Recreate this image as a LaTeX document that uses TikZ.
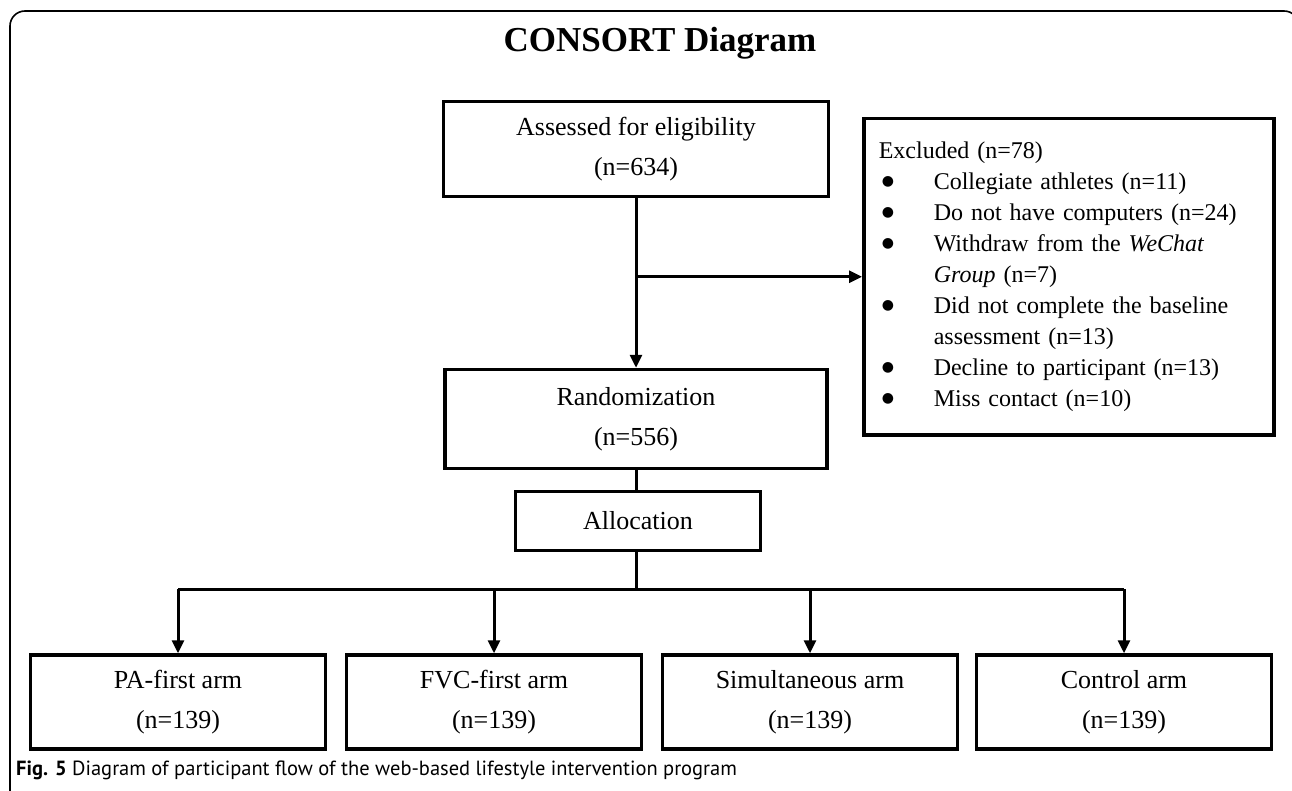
\documentclass[tikz,border=0pt]{standalone}
\usepackage{fontspec}
\setmainfont{Liberation Serif}
\newfontfamily\capfont{PT Sans}
\newfontfamily\dotfont{DejaVu Sans}
\usetikzlibrary{arrows.meta,positioning}
\newcommand{\bul}{\makebox[55pt][l]{\hspace{3pt}\raisebox{4pt}{\dotfont\fontsize{14}{14}\selectfont ●}}}
\newcommand{\ind}{\hspace*{55pt}}
\tikzset{
  flowbox/.style={draw,line width=3.5pt,align=center,inner sep=0pt,
    font=\fontsize{26}{40}\selectfont},
  armbox/.style={flowbox,minimum width=295pt,minimum height=94pt},
  flowline/.style={line width=3pt},
  flowarrow/.style={flowline,-{Triangle[length=13pt,width=12pt]}}
}
\begin{document}
\begin{tikzpicture}[x=1pt,y=-1pt]
  \useasboundingbox (0,0) rectangle (1292,791);
  \clip (0,0) rectangle (1292,791);
  % outer frame, open at the bottom
  \draw[line width=1.6pt,rounded corners=15pt] (10,830) -- (10,11) -- (1299,11) -- (1299,830);
  \node[font=\bfseries\fontsize{35}{40}\selectfont] (title) at (660,43) {CONSORT Diagram};
  % enrolment
  \node[flowbox,minimum width=385pt,minimum height=95pt] (assess) at (636,149)
    {Assessed for eligibility\\(n=634)};
  \node[draw,line width=3.5pt,anchor=north west,minimum width=410pt,minimum height=316pt,
    text width=380pt,inner xsep=15pt,align=left,font=\fontsize{24}{31}\selectfont] (excl) at (862,117)
    {Excluded (n=78)\\
     \bul Collegiate athletes (n=11)\\
     \bul Do not have computers (n=24)\\
     \bul Withdraw from the \textit{WeChat}\\
     \ind\textit{Group} (n=7)\\
     \bul Did not complete the baseline\\
     \ind assessment (n=13)\\
     \bul Decline to participant (n=13)\\
     \bul Miss contact (n=10)};
  \node[flowbox,minimum width=382pt,minimum height=99pt] (random) at (636,419)
    {Randomization\\(n=556)};
  \node[flowbox,minimum width=245pt,minimum height=59pt] (alloc) at (638,521) {Allocation};
  % arms
  \node[armbox] (pa) at (178,702) {PA-first arm\\(n=139)};
  \node[armbox] (fvc) at (494,702) {FVC-first arm\\(n=139)};
  \node[armbox] (simul) at (810,702) {Simultaneous arm\\(n=139)};
  \node[armbox] (ctrl) at (1124,702) {Control arm\\(n=139)};
  % connectors
  \draw[flowarrow] (assess) -- (random);
  \coordinate (split) at (assess.south |- excl.west);
  \draw[flowarrow] (split) -- (excl.west);
  \draw[flowline] (random.south -| split) -- (alloc.north -| split);
  \coordinate (bus) at (636,589);
  \draw[flowline] (alloc.south -| bus) -- (bus);
  \draw[flowline] (pa.north |- bus) -- (ctrl.north |- bus);
  \foreach \arm in {pa,fvc,simul,ctrl}
    \draw[flowarrow] (\arm.north |- bus) -- (\arm.north);
  \node[anchor=base west,inner sep=0pt,font=\capfont\fontsize{20.5}{24}\selectfont] (caption) at (16,775)
    {\textbf{Fig. 5} Diagram of participant flow of the web-based lifestyle intervention program};
\end{tikzpicture}
\end{document}
